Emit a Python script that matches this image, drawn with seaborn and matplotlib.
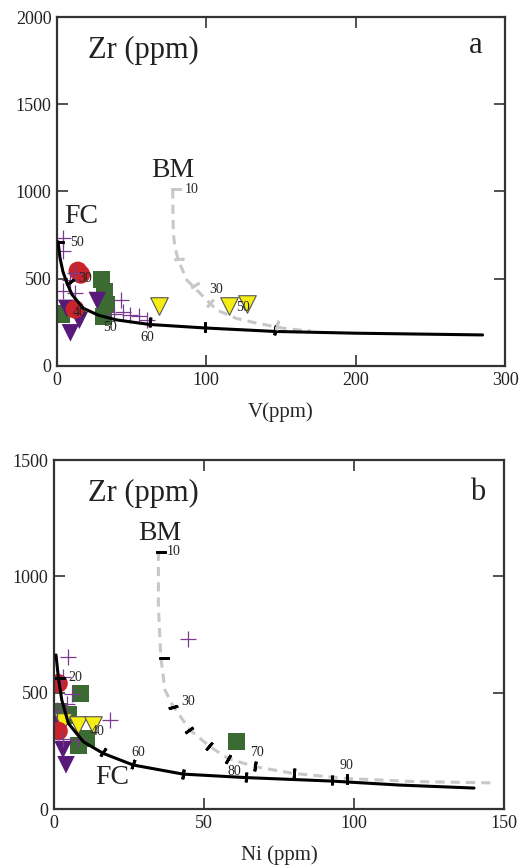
import matplotlib
matplotlib.use("Agg")
import matplotlib.pyplot as plt
import seaborn as sns
import pandas as pd

sns.set_theme(style="white")
plt.rcParams["font.family"] = ["Liberation Serif", "DejaVu Serif"]

# ---------------- Panel a: Zr vs V ----------------
a_cross_v = [4, 4, 9, 4, 12, 12, 43, 38, 44, 49, 55, 60]
a_cross_zr = [735, 660, 490, 430, 420, 535, 380, 300, 310, 295, 285, 265]
a_red_v = [14, 16, 12]
a_red_zr = [545, 525, 325]
a_green_v = [30, 32, 33, 31, 3]
a_green_zr = [495, 425, 355, 285, 298]
a_ptri_v = [9, 15, 27, 6.5]
a_ptri_zr = [190, 262, 375, 330]
a_ytri_v = [68, 115, 127]
a_ytri_zr = [344, 344, 355]

a_fc_v = [0.7, 2, 4, 6.7, 10, 17.4, 28, 40, 62, 99, 146, 200, 285]
a_fc_zr = [712, 620, 540, 475, 410, 332, 290, 264, 238, 218, 198, 188, 178]
a_bm_v = [77.5, 77.6, 77.9, 79, 81.2, 86.9, 95.8, 107, 120, 134, 152, 170]
a_bm_zr = [1012, 900, 760, 680, 607, 493, 416, 321, 273, 245, 216, 200]

a_fc_tick_v = [1.5, 8.7, 62, 99, 146]
a_fc_tick_zr = [712, 480, 255, 226, 205]
a_fc_tick_ang = [90, -55, -5, 0, -8]
a_bm_tick_v = [80, 81.5, 92.4, 102.5, 147]
a_bm_tick_zr = [1012, 613, 464, 361, 235]
a_bm_tick_ang = [90, -85, -60, -40, -15]

a_fc_lab = ["50", "30", "40", "50", "60"]
a_fc_lab_v = [8.7, 14, 10.7, 30.8, 56]
a_fc_lab_zr = [705, 499, 304, 218, 166]
a_bm_lab = ["10", "30", "50"]
a_bm_lab_v = [85.7, 101.8, 120]
a_bm_lab_zr = [1014, 441, 338]

# ---------------- Panel b: Zr vs Ni ----------------
b_cross_ni = [4.8, 3.1, 5.9, 4.2, 0.9, 18.7, 3.1, 8.1, 44.8]
b_cross_zr = [654, 567, 496, 453, 425, 382, 303, 297, 731]
b_red_ni = [1.5, 1.5]
b_red_zr = [540, 335]
b_green_ni = [8.7, 1.4, 4.8, 10.9, 8.1, 60.9]
b_green_zr = [496, 418, 404, 305, 275, 289]
b_ptri_ni = [3, 4, 0.5]
b_ptri_zr = [255, 190, 365]
b_ytri_ni = [3.1, 8.1, 13.1]
b_ytri_zr = [375, 361, 361]

b_fc_ni = [0.67, 1.5, 2.6, 4.8, 9.8, 16.4, 26.4, 43, 64, 92.6, 115, 140]
b_fc_zr = [662, 560, 468, 368, 289, 239, 189, 150, 135, 120, 103, 90]
b_bm_ni = [34.8, 34.8, 35.6, 37, 39.8, 45.3, 52, 58, 67, 79.8, 97.6, 120, 147]
b_bm_zr = [1106, 869, 655, 511, 440, 340, 268, 217, 182, 153, 131, 118, 112]

b_fc_tick_ni = [2, 16.4, 26.4, 43, 64, 92.6]
b_fc_tick_zr = [562, 245, 192, 150, 136, 124]
b_fc_tick_ang = [90, -35, -20, -8, -4, -2]
b_bm_tick_ni = [35.5, 36.5, 39.5, 45, 51.5, 58, 67, 80, 97.6]
b_bm_tick_zr = [1106, 650, 440, 340, 270, 215, 183, 155, 131]
b_bm_tick_ang = [90, 90, -75, -55, -40, -30, -8, -5, 0]

b_fc_lab = ["20", "40", "60", "80"]
b_fc_lab_ni = [4.7, 12.3, 25.7, 58]
b_fc_lab_zr = [566, 332, 242, 160]
b_bm_lab = ["10", "30", "70", "90"]
b_bm_lab_ni = [37.7, 42.3, 65.3, 95.3]
b_bm_lab_zr = [1105, 464, 244, 189]

RED = "#c9232b"
GREEN = "#3b6b32"
PURPLE = "#581a78"
YELLOW = "#f4ee12"
CROSS = "#7a3a8e"
GRAY = "#c8c8c8"


def draw_panel(ax, d):
    sns.scatterplot(x=d["green"][0], y=d["green"][1], ax=ax, marker="s", s=150,
                    color=GREEN, edgecolor="none", zorder=2)
    sns.scatterplot(x=d["ptri"][0], y=d["ptri"][1], ax=ax, marker="v", s=160,
                    color=PURPLE, edgecolor="none", zorder=2.1)
    sns.scatterplot(x=d["ytri"][0], y=d["ytri"][1], ax=ax, marker="v", s=160,
                    color=YELLOW, edgecolor="#555555", linewidth=0.8, zorder=2.2)
    sns.scatterplot(x=d["red"][0], y=d["red"][1], ax=ax, marker="o", s=180,
                    color=RED, edgecolor="none", zorder=2.3)
    sns.scatterplot(x=d["cross"][0], y=d["cross"][1], ax=ax, marker="+", s=140,
                    color=CROSS, linewidth=0.9, zorder=2.4)

    sns.lineplot(x=d["bm"][0], y=d["bm"][1], ax=ax, sort=False, estimator=None,
                 color=GRAY, lw=2.2, dashes=False, linestyle=(0, (3, 2)), zorder=3)
    sns.lineplot(x=d["fc"][0], y=d["fc"][1], ax=ax, sort=False, estimator=None,
                 color="black", lw=2.2, zorder=3.1)

    for (tx, ty, ta), col in ((d["fc_tick"], "black"), (d["bm_tick"], d["bm_tick_col"])):
        for x, y, a in zip(tx, ty, ta):
            ax.plot([x], [y], marker=(2, 2, a), ms=7, mew=2.0, color=col,
                    linestyle="none", zorder=3.2)

    for labs, xs, ys in (d["fc_lab"], d["bm_lab"]):
        for t, x, y in zip(labs, xs, ys):
            ax.text(x, y, t, fontsize=10, ha="left", va="center", color="#222222",
                    zorder=4)


fig = plt.figure(figsize=(5.2, 8.68), dpi=100)
ax_a = fig.add_axes([57 / 520, 1 - 366 / 868, 448 / 520, 349 / 868])
ax_b = fig.add_axes([54 / 520, 1 - 809 / 868, 450 / 520, 349 / 868])

draw_panel(ax_a, {
    "green": (a_green_v, a_green_zr), "ptri": (a_ptri_v, a_ptri_zr),
    "ytri": (a_ytri_v, a_ytri_zr), "red": (a_red_v, a_red_zr),
    "cross": (a_cross_v, a_cross_zr), "fc": (a_fc_v, a_fc_zr), "bm": (a_bm_v, a_bm_zr),
    "fc_tick": (a_fc_tick_v, a_fc_tick_zr, a_fc_tick_ang),
    "bm_tick": (a_bm_tick_v, a_bm_tick_zr, a_bm_tick_ang), "bm_tick_col": GRAY,
    "fc_lab": (a_fc_lab, a_fc_lab_v, a_fc_lab_zr),
    "bm_lab": (a_bm_lab, a_bm_lab_v, a_bm_lab_zr),
})
draw_panel(ax_b, {
    "green": (b_green_ni, b_green_zr), "ptri": (b_ptri_ni, b_ptri_zr),
    "ytri": (b_ytri_ni, b_ytri_zr), "red": (b_red_ni, b_red_zr),
    "cross": (b_cross_ni, b_cross_zr), "fc": (b_fc_ni, b_fc_zr), "bm": (b_bm_ni, b_bm_zr),
    "fc_tick": (b_fc_tick_ni, b_fc_tick_zr, b_fc_tick_ang),
    "bm_tick": (b_bm_tick_ni, b_bm_tick_zr, b_bm_tick_ang), "bm_tick_col": "black",
    "fc_lab": (b_fc_lab, b_fc_lab_ni, b_fc_lab_zr),
    "bm_lab": (b_bm_lab, b_bm_lab_ni, b_bm_lab_zr),
})

ax_a.set_xlim(0, 300)
ax_a.set_ylim(0, 2000)
ax_a.set_xticks([0, 100, 200, 300])
ax_a.set_yticks([0, 500, 1000, 1500, 2000])
ax_a.set_xlabel("V(ppm)", fontsize=15, labelpad=10)
ax_a.text(16, 854, "FC", fontsize=20, ha="center", va="center", color="#222222")
ax_a.text(77.7, 1123, "BM", fontsize=20, ha="center", va="center", color="#222222")
ax_a.text(0.192, 0.905, "Zr (ppm)", transform=ax_a.transAxes, fontsize=22,
          ha="center", va="center", color="#222222")
ax_a.text(0.935, 0.917, "a", transform=ax_a.transAxes, fontsize=22,
          ha="center", va="center", color="#222222")

ax_b.set_xlim(0, 150)
ax_b.set_ylim(0, 1500)
ax_b.set_xticks([0, 50, 100, 150])
ax_b.set_yticks([0, 500, 1000, 1500])
ax_b.set_xlabel("Ni (ppm)", fontsize=15, labelpad=10)
ax_b.text(19.3, 137, "FC", fontsize=20, ha="center", va="center", color="#222222")
ax_b.text(35.3, 1186, "BM", fontsize=20, ha="center", va="center", color="#222222")
ax_b.text(0.198, 0.905, "Zr (ppm)", transform=ax_b.transAxes, fontsize=22,
          ha="center", va="center", color="#222222")
ax_b.text(0.942, 0.908, "b", transform=ax_b.transAxes, fontsize=22,
          ha="center", va="center", color="#222222")

for ax in (ax_a, ax_b):
    ax.set_ylabel("")
    for sp in ax.spines.values():
        sp.set_color("#333333")
        sp.set_linewidth(1.6)
    ax.tick_params(direction="in", length=8, width=1.2, color="#333333",
                   top=True, right=True, bottom=True, left=True,
                   labelsize=13, labelcolor="#222222", pad=4)
    ax.grid(False)

fig.savefig("out.png", dpi=100)
